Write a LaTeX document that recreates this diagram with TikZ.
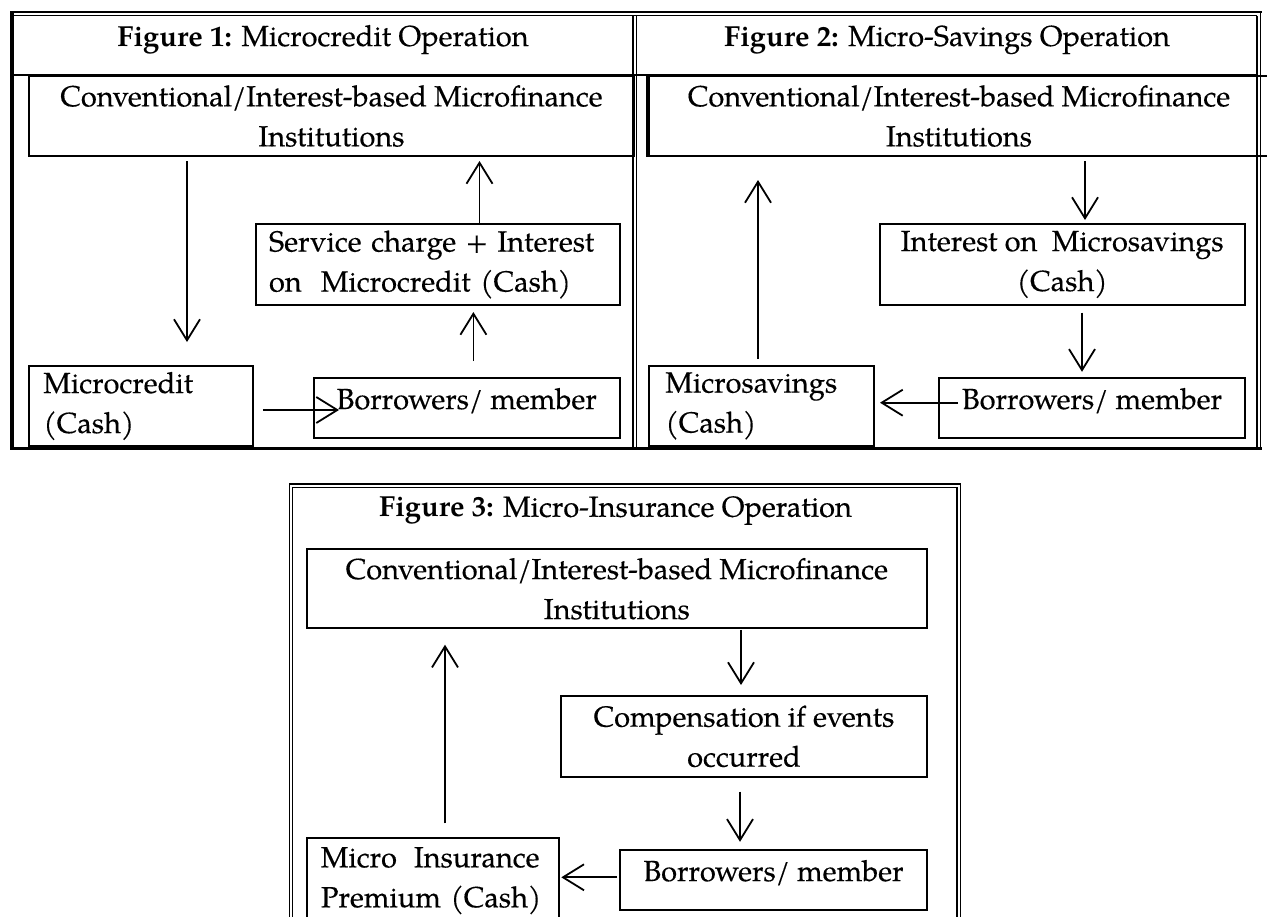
\documentclass[tikz,border=0pt]{standalone}
\usepackage{fontspec}
\setmainfont{TeX Gyre Pagella}[UprightFeatures={FakeBold=0.3}]
\usetikzlibrary{
    arrows.meta,
    calc
}
\tikzset{
    rule/.style={line width=0.6pt},
    box/.style={draw, rectangle, line width=1pt, anchor=north west, inner sep=0pt,
        font=\fontsize{14.5}{20}\selectfont},
    member/.style={box, text height=10pt, text depth=9pt},
    flow/.style={line width=0.9pt, -{Straight Barb[length=10.5pt,width=13pt,line width=0.9pt]}},
    heading/.style={anchor=base, inner sep=0pt, font=\fontsize{14.5}{20}\selectfont}
}

\begin{document}
\begin{tikzpicture}[x=0.5pt, y=-0.5pt]
    \useasboundingbox (0,0) rectangle (1267,916);
    % table frame of figures 1 and 2
    \draw[rule] (10,12) -- (1261.5,12);
    \draw[rule] (13,15.5) -- (1257,15.5);
    \draw[line width=2pt] (12,11) -- (12,450);
    \draw[line width=1.6pt] (10,448.5) -- (1262,448.5);
    \draw[rule] (1257,15.5) -- (1257,447);
    \draw[rule] (1260.5,12) -- (1260.5,449);
    \draw[rule] (633,15.5) -- (633,447);
    \draw[rule] (636.5,15.5) -- (636.5,447);
    \draw[line width=1pt] (13,75) -- (1257,75);
    % frame of figure 3
    \draw[rule] (289.3,930) |- (960.4,484) -- (960.4,930);
    \draw[rule] (292.7,930) |- (957,487.4) -- (957,930);

    \node[heading] (titleA) at (323,46) {\textbf{Figure 1:} Microcredit Operation};
    \node[heading] (titleB) at (947,46) {\textbf{Figure 2:} Micro-Savings Operation};
    \node[heading] (titleC) at (615.5,516.7) {\textbf{Figure 3:} Micro-Insurance Operation};

    % Figure 1
    \node[box, minimum width=302.5pt, minimum height=40pt, align=center] (cimiA) at (28,75)
        {Conventional/Interest-based Microfinance\\Institutions};
    \node[box, minimum width=182pt, minimum height=40.5pt, text width=168.7pt, align=left] (srvA) at (254.7,223)
        {Service charge + Interest\\on\ \ Microcredit (Cash)};
    \node[box, minimum width=112pt, minimum height=40pt, text width=97.5pt, align=left] (mcA) at (28,365)
        {Microcredit\\(Cash)};
    \node[member, minimum width=152.75pt, minimum height=30pt] (boA) at (313,377) {Borrowers/ member};

    \coordinate (xa1) at (187,0);
    \coordinate (xa2) at (479.5,0);
    \coordinate (xa3) at (473.4,0);
    \coordinate (ya4) at (0,410);
    \draw[flow, shorten <=2pt, shorten >=11.5pt] (cimiA.south -| xa1) -- (mcA.north -| xa1);
    \draw[flow, shorten >=2pt] (srvA.north -| xa2) -- (cimiA.south -| xa2);
    \draw[flow, shorten <=8pt, shorten >=3pt] (boA.north -| xa3) -- (srvA.south -| xa3);
    \draw[flow, shorten <=4.4pt, shorten >=-13pt] (mcA.east |- ya4) -- (boA.west |- ya4);

    % Figure 2
    \node[box, minimum width=310pt, minimum height=40pt, align=center] (cimiB) at (648,75)
        {Conventional/Interest-based Microfinance\\Institutions};
    \draw[line width=1.6pt] (cimiB.north west) -- (cimiB.south west);
    \node[box, minimum width=182.5pt, minimum height=40.5pt, align=center] (intB) at (878.7,223)
        {Interest on\ \ Microsavings\\(Cash)};
    \node[box, minimum width=112.5pt, minimum height=40pt, text width=96pt, align=left] (msB) at (648,365)
        {Microsavings\\(Cash)};
    \node[member, minimum width=153pt, minimum height=30pt] (boB) at (938,377) {Borrowers/ member};

    \coordinate (xb1) at (1085,0);
    \coordinate (xb2) at (1082,0);
    \coordinate (yb3) at (0,402.7);
    \coordinate (xb4) at (758,0);
    \draw[flow, shorten <=2pt, shorten >=1.5pt] (cimiB.south -| xb1) -- (intB.north -| xb1);
    \draw[flow, shorten <=3.3pt, shorten >=2.6pt] (intB.south -| xb2) -- (boB.north -| xb2);
    \draw[flow, shorten <=-10pt, shorten >=2.5pt] (boB.west |- yb3) -- (msB.east |- yb3);
    \draw[flow, shorten <=3pt, shorten >=11.5pt] (msB.north -| xb4) -- (cimiB.south -| xb4);

    % Figure 3
    \node[box, minimum width=310.15pt, minimum height=39.5pt, align=center] (cimiC) at (305.7,548.3)
        {Conventional/Interest-based Microfinance\\Institutions};
    \node[box, minimum width=183pt, minimum height=40.35pt, align=center] (cmpC) at (560,695)
        {Compensation if events\\occurred};
    \node[box, minimum width=126.3pt, minimum height=43pt, text width=112pt, align=left] (prC) at (305.7,836.7)
        {Micro\hspace{8.5pt}Insurance\\Premium (Cash)};
    \node[member, minimum width=153.5pt, minimum height=30pt] (boC) at (619,849) {Borrowers/ member};

    \coordinate (xc1) at (741,0);
    \coordinate (xc2) at (740,0);
    \coordinate (yc3) at (0,877.3);
    \coordinate (xc4) at (445,0);
    \draw[flow, shorten <=0.3pt, shorten >=5pt] (cimiC.south -| xc1) -- (cmpC.north -| xc1);
    \draw[flow, shorten <=7pt, shorten >=3.6pt] (cmpC.south -| xc2) -- (boC.north -| xc2);
    \draw[flow, shorten <=1pt, shorten >=0.5pt] (boC.west |- yc3) -- (prC.east |- yc3);
    \draw[flow, shorten <=6.7pt, shorten >=7.7pt] (prC.north -| xc4) -- (cimiC.south -| xc4);
\end{tikzpicture}
\end{document}
